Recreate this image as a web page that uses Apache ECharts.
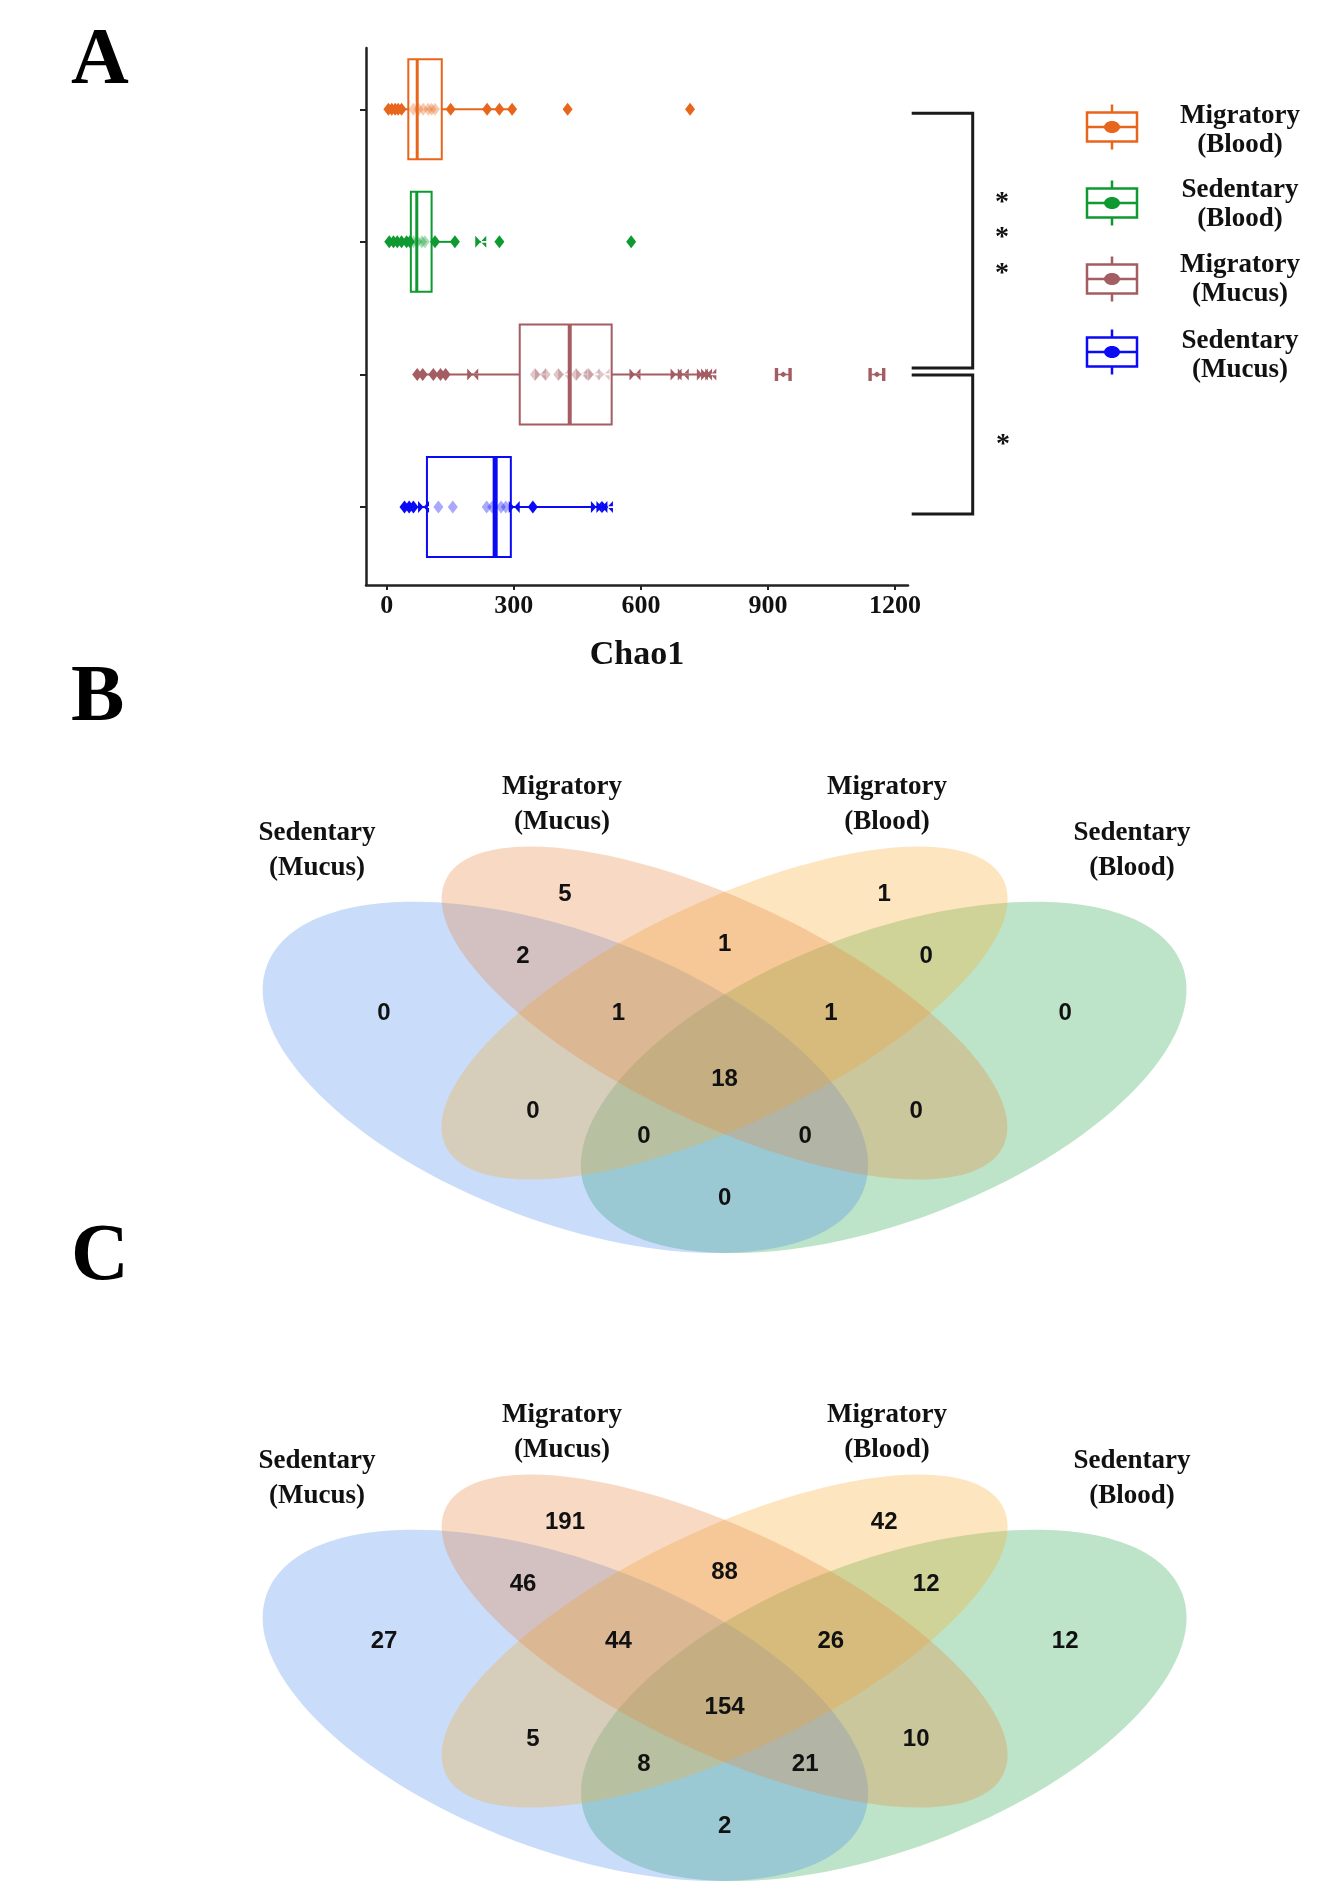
<!DOCTYPE html>
<html>
<head>
<meta charset="utf-8">
<script src="https://cdn.jsdelivr.net/npm/echarts@6/dist/echarts.min.js"></script>
<style>
html,body{margin:0;padding:0;background:#ffffff;}
#chart{width:1335px;height:1896px;}
</style>
</head>
<body>
<div id="chart"></div>
<script>
// ---------------- DATA ----------------
// Panel A : Chao1 per group (horizontal box plots)
const groupNames = ['Migratory (Blood)', 'Sedentary (Blood)', 'Migratory (Mucus)', 'Sedentary (Mucus)'];
const legendLabels = ['Migratory\n(Blood)', 'Sedentary\n(Blood)', 'Migratory\n(Mucus)', 'Sedentary\n(Mucus)'];
// [whisker min, Q1, median, Q3, whisker max]
const statsMigBlood  = [4, 51, 72, 130, 296];
const statsSedBlood  = [6, 57, 71, 106, 161];
const statsMigMucus  = [72, 314, 432, 531, 765];
const statsSedMucus  = [42, 95, 256, 293, 521];
// individual sample values
const pointsMigBlood = [4, 12, 20, 27, 35, 63, 75, 86, 98, 106, 114, 151, 237, 266, 296, 427, 716];
const pointsSedBlood = [6, 16, 25, 35, 47, 55, 63, 72, 83, 90, 114, 161, 222, 266, 577];
const pointsMigMucus = [72, 85, 110, 127, 139, 203, 350, 363, 375, 405, 418, 447, 460, 476, 489, 513, 586, 683, 700, 745, 755, 765, 936, 1157];
const pointsSedMucus = [42, 53, 63, 87, 122, 156, 236, 249, 270, 281, 301, 345, 495, 508, 521];
const xTickValues = [0, 300, 600, 900, 1200];
const xAxisTitle = 'Chao1';
const significance = ['*\n*\n*', '*'];

// Panels B and C : Venn counts
const vennSetNames = ['Sedentary\n(Mucus)', 'Migratory\n(Mucus)', 'Migratory\n(Blood)', 'Sedentary\n(Blood)'];
const vennRegionKeys = ['SM', 'MM', 'MB', 'SB', 'SM&MM', 'MM&MB', 'MB&SB', 'SM&MB', 'MM&SB', 'SM&SB',
                        'SM&MM&MB', 'MM&MB&SB', 'SM&MB&SB', 'SM&MM&SB', 'ALL'];
const vennCountsB = [0, 5, 1, 0, 2, 1, 0, 0, 0, 0, 1, 1, 0, 0, 18];
const vennCountsC = [27, 191, 42, 12, 46, 88, 12, 5, 10, 2, 44, 26, 8, 21, 154];
const panelLetters = ['A', 'B', 'C'];

// ---------------- STYLE / LAYOUT ----------------
const groupColors = ['#E8661C', '#0E9A30', '#A35D63', '#0A0AF5'];
const medianWidths = [3, 3, 4, 5];
const shapesMigBlood = 'dddddddddddddddddh';
const shapesSedBlood = 'ddddddddddddhdd';
const shapesMigMucus = 'dddddhdhddhdhdhhhhhhhhee';
const shapesSedMucus = 'dddhddddddhdhhh';
const SERIF = '"Liberation Serif","Times New Roman",serif';
const SANS = '"Liberation Sans",Arial,sans-serif';
const BOX_HALF = 0.377;
const symbolPaths = {
  d: {symbol: 'diamond', size: [10, 13]},
  h: {symbol: 'path://M0,0L5,5L0,10ZM10,0L5,5L10,10ZM0,4.3H10V5.7H0Z', size: [11, 12]},
  e: {symbol: 'path://M0,0H2V10H0ZM8,0H10V10H8ZM2,4.4H8V5.6H2ZM5,2.8L7.2,5L5,7.2L2.8,5Z', size: [17, 13]}
};

const allStats = [statsMigBlood, statsSedBlood, statsMigMucus, statsSedMucus];
const allPoints = [pointsMigBlood, pointsSedBlood, pointsMigMucus, pointsSedMucus];
const allShapes = [shapesMigBlood, shapesSedBlood, shapesMigMucus, shapesSedMucus];

// Venn geometry (pixels) for panel B; panel C is shifted down
const VENN_SHIFT = 628;
const vennEllipses = [ // drawn order: green, blue, yellow, orange
  {set: 3, cx: 883.8, cy: 1077.4, rx: 318.8, ry: 144.5, rot: 0.3595, fill: 'rgba(38,165,72,0.3)'},
  {set: 0, cx: 565.4, cy: 1077.4, rx: 318.8, ry: 144.5, rot: -0.3595, fill: 'rgba(75,138,238,0.3)'},
  {set: 2, cx: 724.6, cy: 1013, rx: 309, ry: 111, rot: 0.445, fill: 'rgba(248,172,42,0.3)'},
  {set: 1, cx: 724.6, cy: 1013, rx: 309, ry: 111, rot: -0.445, fill: 'rgba(232,132,58,0.3)'}
];
const vennSetLabelPos = [[317, 851], [562, 805], [887, 805], [1132, 851]];
const vennRegionPos = {
  'SM': [384, 1012], 'MM': [565, 893], 'MB': [884.2, 893], 'SB': [1065.2, 1012],
  'SM&MM': [523, 955], 'MM&MB': [724.6, 943], 'MB&SB': [926.2, 955],
  'SM&MB': [533, 1110], 'MM&SB': [916.2, 1110], 'SM&SB': [724.6, 1197],
  'SM&MM&MB': [618.4, 1012], 'MM&MB&SB': [830.8, 1012],
  'SM&MB&SB': [644, 1135], 'SM&MM&SB': [805.2, 1135], 'ALL': [724.6, 1078]
};

// ---------------- BUILD ----------------
const series = [];
groupNames.forEach((name, i) => {
  const pos = i + 1;
  const color = groupColors[i];
  const st = allStats[i];
  series.push({
    name: name,
    type: 'custom',
    z: 2,
    silent: true,
    itemStyle: {color: color},
    dimensions: ['pos', 'min', 'q1', 'med', 'q3', 'max'],
    encode: {x: [1, 2, 3, 4, 5], y: 0},
    data: [[pos].concat(st)],
    renderItem: (params, api) => {
      const yc = api.value(0);
      const pMin = api.coord([api.value(1), yc]);
      const pQ1 = api.coord([api.value(2), yc]);
      const pMed = api.coord([api.value(3), yc]);
      const pQ3 = api.coord([api.value(4), yc]);
      const pMax = api.coord([api.value(5), yc]);
      const yA = api.coord([0, yc - BOX_HALF])[1];
      const yB = api.coord([0, yc + BOX_HALF])[1];
      const top = Math.min(yA, yB), bot = Math.max(yA, yB);
      return {
        type: 'group',
        children: [
          {type: 'line', shape: {x1: pMin[0], y1: pMin[1], x2: pQ1[0], y2: pQ1[1]}, style: {stroke: color, lineWidth: 2}},
          {type: 'line', shape: {x1: pQ3[0], y1: pQ3[1], x2: pMax[0], y2: pMax[1]}, style: {stroke: color, lineWidth: 2}},
          {type: 'rect', shape: {x: pQ1[0], y: top, width: pQ3[0] - pQ1[0], height: bot - top},
            style: {fill: 'none', stroke: color, lineWidth: 2}},
          {type: 'line', shape: {x1: pMed[0], y1: top, x2: pMed[0], y2: bot}, style: {stroke: color, lineWidth: medianWidths[i]}}
        ]
      };
    }
  });
  const pts = allPoints[i].map((v, k) => {
    const sp = symbolPaths[allShapes[i][k]] || symbolPaths.d;
    const inside = v > st[1] && v < st[3];
    return {
      value: [v, pos],
      symbol: sp.symbol,
      symbolSize: sp.size,
      itemStyle: {color: color, opacity: inside ? 0.35 : 1}
    };
  });
  series.push({
    name: name + ' points',
    type: 'scatter',
    z: 3,
    silent: true,
    data: pts
  });
});

const graphics = [];
// panel letters
const letterY = [62, 699, 1258];
panelLetters.forEach((L, i) => {
  graphics.push({type: 'text', x: 71, y: letterY[i], style: {text: L, fill: '#000', font: 'bold 80px ' + SERIF, textAlign: 'left', textVerticalAlign: 'middle'}});
});
// legend (panel A)
const legIconY = [127, 203, 279, 352];
const legTextY = [131, 205, 280, 356];
groupNames.forEach((name, i) => {
  const c = legIconY[i], col = groupColors[i];
  graphics.push({type: 'line', shape: {x1: 1112, y1: c - 22.5, x2: 1112, y2: c + 22.5}, style: {stroke: col, lineWidth: 2.5}});
  graphics.push({type: 'rect', shape: {x: 1087, y: c - 14.5, width: 50, height: 29}, style: {fill: '#fff', stroke: col, lineWidth: 2.5}});
  graphics.push({type: 'line', shape: {x1: 1087, y1: c, x2: 1137, y2: c}, style: {stroke: col, lineWidth: 2.5}});
  graphics.push({type: 'ellipse', shape: {cx: 1112, cy: c, rx: 8, ry: 6}, style: {fill: col}});
  graphics.push({type: 'text', x: 1240, y: legTextY[i], style: {text: legendLabels[i], fill: '#111', font: 'bold 27px ' + SERIF, textAlign: 'center', textVerticalAlign: 'middle', lineHeight: 29}});
});
// significance brackets
graphics.push({type: 'polyline', shape: {points: [[911.7, 113.3], [972.7, 113.3], [972.7, 368], [911.7, 368]]}, style: {stroke: '#1a1a1a', lineWidth: 3, fill: null}});
graphics.push({type: 'polyline', shape: {points: [[911.7, 375], [972.7, 375], [972.7, 514], [911.7, 514]]}, style: {stroke: '#1a1a1a', lineWidth: 3, fill: null}});
graphics.push({type: 'text', x: 1002, y: 238, style: {text: significance[0], fill: '#111', font: 'bold 28px ' + SERIF, textAlign: 'center', textVerticalAlign: 'middle', lineHeight: 35.5}});
graphics.push({type: 'text', x: 1003, y: 445, style: {text: significance[1], fill: '#111', font: 'bold 28px ' + SERIF, textAlign: 'center', textVerticalAlign: 'middle'}});

// Venn panels
[vennCountsB, vennCountsC].forEach((counts, p) => {
  const dy = p * VENN_SHIFT;
  vennEllipses.forEach(e => {
    graphics.push({type: 'ellipse', x: e.cx, y: e.cy + dy, rotation: e.rot,
      shape: {cx: 0, cy: 0, rx: e.rx, ry: e.ry}, style: {fill: e.fill}});
  });
  vennSetNames.forEach((nm, s) => {
    const pp = vennSetLabelPos[s];
    graphics.push({type: 'text', x: pp[0], y: pp[1] + dy, style: {text: nm, fill: '#111', font: 'bold 27px ' + SERIF, textAlign: 'center', textVerticalAlign: 'middle', lineHeight: 35}});
  });
  vennRegionKeys.forEach((k, r) => {
    const pp = vennRegionPos[k];
    graphics.push({type: 'text', x: pp[0], y: pp[1] + dy + 1, style: {text: String(counts[r]), fill: '#111', font: 'bold 24px ' + SANS, textAlign: 'center', textVerticalAlign: 'middle'}});
  });
});

const option = {
  backgroundColor: '#ffffff',
  animation: false,
  grid: {left: 366, top: 48, width: 542, height: 537, containLabel: false},
  xAxis: {
    type: 'value',
    min: -48.85,
    max: 1230.4,
    axisLine: {show: true, onZero: false, lineStyle: {color: '#222', width: 2.5}},
    axisTick: {show: true, customValues: xTickValues, length: 5, lineStyle: {color: '#222', width: 2}},
    axisLabel: {customValues: xTickValues, formatter: v => String(v), fontFamily: SERIF, fontWeight: 'bold', fontSize: 26, color: '#111', margin: 8},
    splitLine: {show: false},
    name: xAxisTitle,
    nameLocation: 'middle',
    nameGap: 53,
    nameTextStyle: {fontFamily: SERIF, fontWeight: 'bold', fontSize: 34, color: '#111'}
  },
  yAxis: {
    type: 'value',
    inverse: true,
    min: 0.538,
    max: 4.588,
    axisLine: {show: true, onZero: false, lineStyle: {color: '#222', width: 2.5}},
    axisTick: {show: true, customValues: [1, 2, 3, 4], length: 6, lineStyle: {color: '#222', width: 2}},
    axisLabel: {show: false},
    splitLine: {show: false}
  },
  series: series,
  graphic: {elements: graphics}
};

const chart = echarts.init(document.getElementById('chart'), null, {renderer: 'canvas'});
chart.setOption(option);
</script>
</body>
</html>
